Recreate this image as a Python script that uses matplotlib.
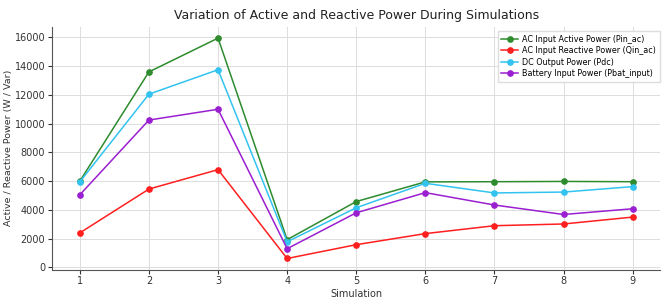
import matplotlib
matplotlib.use("Agg")
import matplotlib.pyplot as plt

simulations = [1, 2, 3, 4, 5, 6, 7, 8, 9]
pin_ac = [6000, 13600, 15950, 1930, 4580, 5950, 5960, 5980, 5960]
qin_ac = [2400, 5450, 6800, 620, 1580, 2350, 2900, 3020, 3500]
pdc = [5950, 12050, 13750, 1780, 4150, 5850, 5180, 5240, 5620]
pbat_input = [5050, 10250, 11000, 1300, 3800, 5200, 4340, 3680, 4080]

labels = ["AC Input Active Power (Pin_ac)", "AC Input Reactive Power (Qin_ac)",
          "DC Output Power (Pdc)", "Battery Input Power (Pbat_input)"]
colors = ["#2e8b2e", "#ff1f1f", "#33c3f0", "#9a1fd0"]

fig = plt.figure(figsize=(6.69, 3.08), dpi=100)
ax = fig.add_axes([0.078, 0.125, 0.909, 0.787])

for series, lab, col in zip([pin_ac, qin_ac, pdc, pbat_input], labels, colors):
    ax.plot(simulations, series, marker="o", markersize=3.8, linewidth=1.1,
            color=col, label=lab)

ax.set_title("Variation of Active and Reactive Power During Simulations",
             fontsize=9, color="#222222", pad=6)
ax.set_xlabel("Simulation", fontsize=7, labelpad=2, color="#333333")
ax.set_ylabel("Active / Reactive Power (W / Var)", fontsize=6.8, labelpad=1, color="#333333")
ax.set_xticks(simulations)
ax.set_yticks(range(0, 16001, 2000))
ax.tick_params(labelsize=7, colors="#333333", length=3, width=0.8, pad=2)
ax.grid(True, color="#dddddd", linewidth=0.7)
ax.spines["top"].set_visible(False)
ax.spines["right"].set_visible(False)
ax.spines["left"].set_color("#555555")
ax.spines["bottom"].set_color("#555555")
ax.legend(loc="upper right", bbox_to_anchor=(1.006, 1.0), fontsize=5.8, frameon=True,
          framealpha=1, edgecolor="#dddddd", handlelength=2, borderpad=0.45,
          labelspacing=0.3, handletextpad=0.6, fancybox=False)

fig.savefig("out.png", dpi=100)
